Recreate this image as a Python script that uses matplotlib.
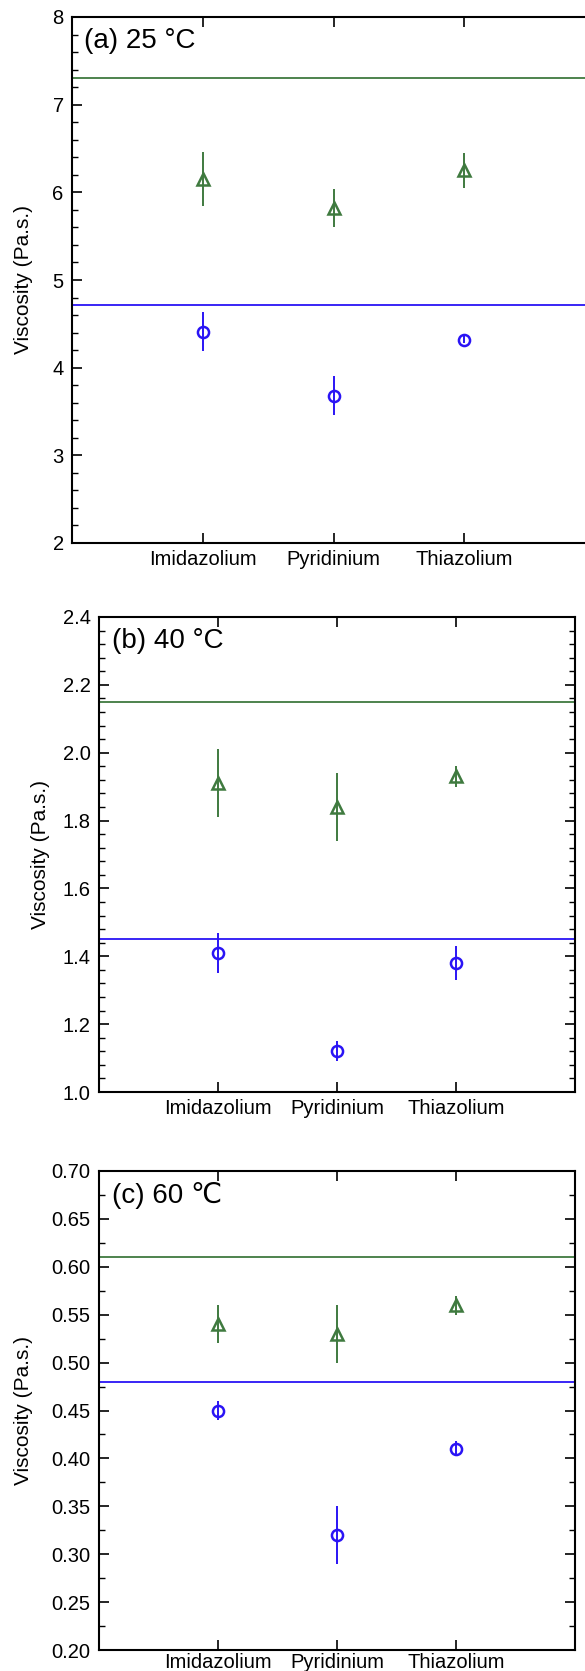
import matplotlib
matplotlib.use("Agg")
import matplotlib.pyplot as plt
from matplotlib.ticker import MultipleLocator, FormatStrFormatter

plt.rcParams['font.family'] = ['Liberation Sans', 'DejaVu Sans']

categories = ['Imidazolium', 'Pyridinium', 'Thiazolium']
xpos = [1, 2, 3]

# (a) 25 °C
green_a = [6.15, 5.82, 6.25]
green_a_err = [0.31, 0.22, 0.20]
blue_a = [4.41, 3.68, 4.32]
blue_a_err = [0.22, 0.22, 0.04]
ref_green_a = 7.30
ref_blue_a = 4.72

# (b) 40 °C
green_b = [1.91, 1.84, 1.93]
green_b_err = [0.10, 0.10, 0.03]
blue_b = [1.41, 1.12, 1.38]
blue_b_err = [0.06, 0.03, 0.05]
ref_green_b = 2.15
ref_blue_b = 1.45

# (c) 60 °C
green_c = [0.54, 0.53, 0.56]
green_c_err = [0.02, 0.03, 0.01]
blue_c = [0.45, 0.32, 0.41]
blue_c_err = [0.01, 0.03, 0.008]
ref_green_c = 0.61
ref_blue_c = 0.48

GREEN = '#3f7a3f'
BLUE = '#2a14f5'

W, H = 585, 1671
fig = plt.figure(figsize=(W / 100, H / 100), dpi=100)


def px_axes(left, top, right, bottom):
    return fig.add_axes([left / W, (H - bottom) / H, (right - left) / W, (bottom - top) / H])


panels = [
    dict(box=(72, 17, 595, 543), ylim=(2, 8), major=1, minor=0.2, fmt='%d',
         green=green_a, gerr=green_a_err, blue=blue_a, berr=blue_a_err,
         rg=ref_green_a, rb=ref_blue_a, label='(a) 25 °C', ylab_x=33, xpad=5),
    dict(box=(99, 617, 575, 1092), ylim=(1.0, 2.4), major=0.2, minor=0.04, fmt='%.1f',
         green=green_b, gerr=green_b_err, blue=blue_b, berr=blue_b_err,
         rg=ref_green_b, rb=ref_blue_b, label='(b) 40 °C', ylab_x=50, xpad=5),
    dict(box=(99, 1171, 575, 1650), ylim=(0.20, 0.70), major=0.05, minor=0.025, fmt='%.2f',
         green=green_c, gerr=green_c_err, blue=blue_c, berr=blue_c_err,
         rg=ref_green_c, rb=ref_blue_c, label='(c) 60 \u2103', ylab_x=33, xpad=2),
]

for p in panels:
    ax = px_axes(*p['box'])
    ax.set_xlim(0, 4)
    ax.set_ylim(*p['ylim'])
    ax.axhline(p['rg'], color=GREEN, lw=1.3, zorder=1)
    ax.axhline(p['rb'], color=BLUE, lw=1.3, zorder=1)
    ax.errorbar(xpos, p['green'], yerr=p['gerr'], fmt='^', ms=9, mfc='none',
                mec=GREEN, mew=1.8, ecolor=GREEN, elinewidth=1.4, capsize=0, zorder=3)
    ax.errorbar(xpos, p['blue'], yerr=p['berr'], fmt='o', ms=8, mfc='none',
                mec=BLUE, mew=1.8, ecolor=BLUE, elinewidth=1.4, capsize=0, zorder=3)
    ax.set_xticks(xpos)
    ax.set_xticklabels(categories)
    ax.yaxis.set_major_locator(MultipleLocator(p['major']))
    ax.yaxis.set_minor_locator(MultipleLocator(p['minor']))
    ax.yaxis.set_major_formatter(FormatStrFormatter(p['fmt']))
    ax.tick_params(axis='both', which='major', direction='in', length=7, width=1.2,
                   top=True, right=True, labelsize=14.5, pad=6, color='black')
    ax.tick_params(axis='y', which='minor', direction='in', length=4, width=1.0,
                   right=True)
    ax.tick_params(axis='x', which='major', pad=p['xpad'], labelsize=14.5)
    for s in ax.spines.values():
        s.set_linewidth(1.5)
    ax.set_ylabel('Viscosity (Pa.s.)', fontsize=15)
    ymid = (H - (p['box'][1] + p['box'][3]) / 2) / H
    ax.yaxis.set_label_coords(p['ylab_x'] / W, ymid, transform=fig.transFigure)
    ax.annotate(p['label'], xy=(0, 1), xycoords='axes fraction',
                xytext=(9, -8), textcoords='offset points',
                ha='left', va='top', fontsize=20)

fig.savefig('out.png', dpi=100)
